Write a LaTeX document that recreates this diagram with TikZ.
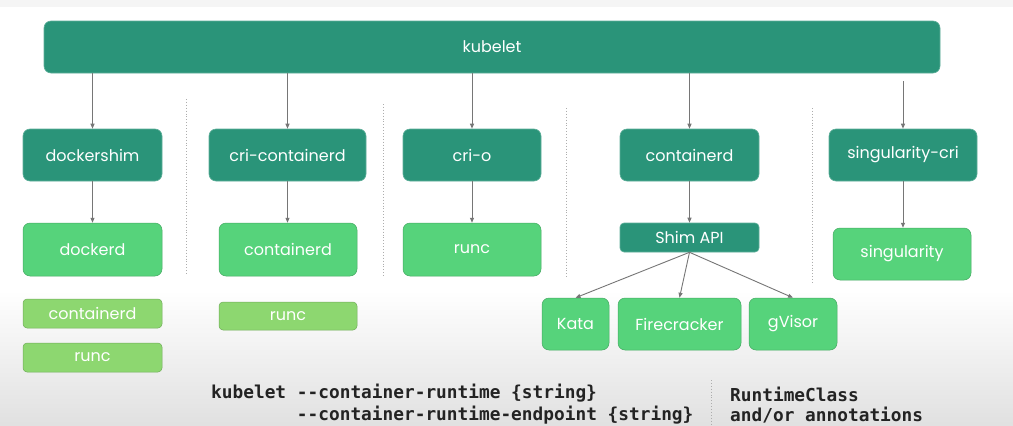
\documentclass[tikz,border=0pt]{standalone}
\usepackage{fontspec}
\setmainfont{Poppins}
\setmonofont{DejaVu Sans Mono}
\usetikzlibrary{arrows.meta, positioning, calc}
\definecolor{cTeal}{RGB}{42,148,121}
\definecolor{cGreen}{RGB}{86,211,123}
\definecolor{cLime}{RGB}{141,215,112}
\definecolor{cArrow}{RGB}{118,118,118}
\definecolor{cText}{RGB}{35,35,35}
\tikzset{
	shimbox/.style ={rectangle, rounded corners=7pt, inner sep=0pt, align=center, text=white, fill=cTeal, draw=cTeal!75!white, line width=0.6pt},
	rtbox/.style   ={rectangle, rounded corners=7pt, inner sep=0pt, align=center, text=white, fill=cGreen, draw=cGreen!80!black, line width=0.5pt},
	libbox/.style  ={rectangle, rounded corners=4pt, inner sep=0pt, align=center, text=white, fill=cLime, draw=cLime!80!black, line width=0.5pt},
	callarrow/.style={-{Triangle[length=5pt, width=4pt]}, cArrow, line width=0.9pt},
	sep/.style     ={cArrow!60, dotted, line width=0.9pt},
	cmd/.style     ={anchor=base west, inner sep=0pt, align=left, text=cText, font=\ttfamily\bfseries\fontsize{17.8}{22}\selectfont},
}

\begin{document}
\begin{tikzpicture}[x=1pt, y=-1pt, font=\fontsize{16}{19}\selectfont]
	\clip (0,0) rectangle (1013,426);
	% background
	\fill[white] (0,0) rectangle (1013,426);
	\fill[black!4] (0,0) rectangle (1013,7);
	\shade[top color=white, bottom color=black!12] (0,290) rectangle (1013,426);

	% kubelet and the CRI shims
	\node[shimbox, minimum width=896pt, minimum height=52pt] (kubelet) at (492,47) {kubelet};
	\node[shimbox, minimum width=139pt, minimum height=52pt] (dockershim) at (92.5,155) {dockershim};
	\node[shimbox, minimum width=157pt, minimum height=52pt] (cricd) at (287.5,155) {cri-containerd};
	\node[shimbox, minimum width=138pt, minimum height=52pt] (crio) at (472,155) {cri-o};
	\node[shimbox, minimum width=139pt, minimum height=52pt] (containerd) at (689.5,155) {containerd};
	\node[shimbox, minimum width=148pt, minimum height=52pt] (singcri) at (903,155) {singularity-cri};

	% runtimes
	\node[rtbox, minimum width=139pt, minimum height=53pt] (dockerd) at (92.5,249.5) {dockerd};
	\node[rtbox, minimum width=138pt, minimum height=53pt] (cdruntime) at (288,249.5) {containerd};
	\node[rtbox, minimum width=138pt, minimum height=53pt] (runc) at (472,249.5) {runc};
	\node[shimbox, rounded corners=4pt, minimum width=139pt, minimum height=29pt] (shimapi) at (689.5,237.5) {Shim API};
	\node[rtbox, minimum width=138pt, minimum height=52pt] (singularity) at (902,254) {singularity};

	% what sits below
	\node[libbox, minimum width=139pt, minimum height=29pt] (dockercd) at (92.5,313.5) {containerd};
	\node[libbox, minimum width=139pt, minimum height=29pt] (dockerrunc) at (92.5,357.5) {runc};
	\node[libbox, minimum width=138pt, minimum height=28pt] (cdrunc) at (288,316) {runc};
	\node[rtbox, minimum width=67pt, minimum height=52pt] (kata) at (575.5,324) {Kata};
	\node[rtbox, minimum width=123pt, minimum height=52pt] (firecracker) at (679.5,324) {Firecracker};
	\node[rtbox, minimum width=88pt, minimum height=52pt] (gvisor) at (793,324) {gVisor};

	% arrows
	\coordinate (singtop) at (903,81);
	\foreach \n in {dockershim, cricd, crio, containerd}
		\draw[callarrow] (kubelet.south -| \n.north) -- (\n.north);
	\draw[callarrow] (singtop) -- (singcri.north);
	\draw[callarrow] (dockershim) -- (dockerd);
	\draw[callarrow] (cricd.south) -- (cricd.south |- cdruntime.north);
	\draw[callarrow] (crio) -- (runc);
	\draw[callarrow] (containerd) -- (shimapi);
	\draw[callarrow] (singcri.south) -- (singcri.south |- singularity.north);
	\foreach \n in {kata, firecracker, gvisor}
		\draw[callarrow] (shimapi.south) -- (\n.north);

	% separators
	\draw[sep] (186,99) -- (186,275);
	\draw[sep] (383,104) -- (383,277);
	\draw[sep] (566,108) -- (566,277);
	\draw[sep] (812,108) -- (812,283);
	\draw[sep] (711,380) -- (711,426);

	% kubelet flags / RuntimeClass (base = last line)
	\node[cmd] (flags) at (211,420) {kubelet -{}-container-runtime \{string\}\\\phantom{kubelet }-{}-container-runtime-endpoint \{string\}};
	\node[cmd, font=\ttfamily\bfseries\fontsize{17.8}{20}\selectfont] (rtclass) at (730,421) {RuntimeClass\\and/or annotations};
\end{tikzpicture}
\end{document}
